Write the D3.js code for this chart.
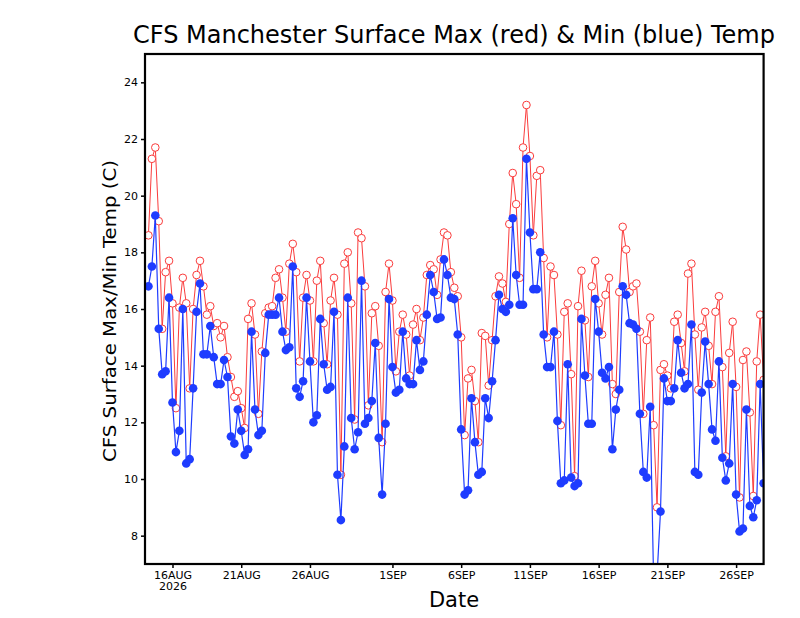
<!DOCTYPE html>
<html lang="en">
<head>
	<meta charset="UTF-8">
	<title>CFS Manchester</title>
	<style>
		body { margin: 0; background: #fff; }
		text { font-family: "DejaVu Sans", sans-serif; fill: #000; }
	</style>
</head>
<body>
<script src="https://d3js.org/d3.v7.min.js"></script>
<script type="text/javascript">
	// 6-hourly CFS values, first one 14AUG2026 06Z
	var start = Date.UTC(2026, 7, 14, 6);
	var stepHours = 6;

	var tmax = [
		18.6, 21.3, 21.7, 19.1, 15.3, 17.3, 17.7, 16.2, 12.5, 16.05,
		17.1, 16.2, 13.2, 16.0, 17.2, 17.7, 16.8, 15.8, 16.1, 15.4,
		15.5, 15.0, 15.4, 14.3, 13.6, 12.9, 13.1, 12.5, 11.8, 15.65,
		16.2, 15.1, 12.3, 14.5, 15.85, 16.05, 16.1, 17.1, 17.4, 16.4,
		15.2, 17.6, 18.3, 17.3, 14.15, 16.4, 17.2, 16.3, 14.15, 17.0,
		17.7, 15.5, 14.05, 16.3, 17.1, 15.8, 10.15, 17.6, 18.0, 16.2,
		12.1, 18.7, 18.5, 16.8, 12.6, 15.85, 16.1, 14.7, 11.3, 16.6,
		17.6, 16.3, 13.8, 15.2, 15.8, 15.1, 13.65, 15.45, 16.0, 14.9,
		15.7, 17.2, 17.55, 17.4, 16.5, 17.75, 18.7, 18.6, 17.3, 16.75,
		16.45, 15.0, 11.55, 13.55, 13.85, 12.75, 11.3, 15.15, 15.05, 13.3,
		14.9, 16.45, 17.15, 16.9, 16.25, 19.0, 20.8, 19.7, 17.1, 21.7,
		23.2, 21.4, 18.6, 20.7, 20.9, 17.8, 15.0, 17.5, 17.2, 15.1,
		11.9, 15.9, 16.2, 13.7, 10.1, 16.1, 17.35, 15.6, 13.6, 16.8,
		17.7, 16.2, 15.1, 16.5, 17.1, 13.35, 13.0, 16.6, 18.9, 18.1,
		16.6, 16.8, 16.9, 15.2, 12.3, 14.9, 15.7, 11.9, 9.0, 13.85,
		14.05, 13.65, 13.2, 15.55, 15.8, 14.8, 13.8, 17.25, 17.6, 15.1,
		13.15, 15.35, 15.9, 14.7, 13.35, 15.9, 16.45, 13.95, 10.8, 14.45,
		15.55, 13.25, 9.35, 14.2, 14.5, 12.35, 9.4, 14.15, 15.8, 13.5
	];

	var tmin = [
		16.8, 17.5, 19.3, 15.3, 13.7, 13.8, 16.4, 12.7, 10.95, 11.7,
		16.0, 10.55, 10.7, 13.2, 15.9, 16.9, 14.4, 14.4, 15.4, 14.3,
		13.35, 13.35, 14.2, 13.6, 11.5, 11.25, 12.45, 11.7, 10.85, 11.05,
		15.2, 12.45, 11.55, 11.7, 14.45, 15.8, 15.8, 15.8, 16.4, 15.2,
		14.55, 14.65, 17.5, 13.2, 12.9, 13.45, 16.4, 14.15, 12.0, 12.25,
		15.65, 14.05, 13.15, 13.25, 15.9, 10.15, 8.55, 11.15, 16.4, 12.15,
		11.05, 11.65, 17.0, 11.95, 12.15, 12.75, 14.8, 11.45, 9.45, 11.95,
		16.35, 13.95, 13.05, 13.15, 15.2, 13.55, 13.35, 13.35, 14.9, 13.85,
		14.15, 15.8, 17.2, 16.6, 15.65, 15.7, 17.75, 17.2, 16.4, 16.35,
		15.1, 11.75, 9.45, 9.6, 12.85, 11.3, 10.15, 10.25, 12.85, 12.15,
		13.45, 14.9, 16.5, 16.0, 15.9, 16.15, 19.2, 17.2, 16.15, 16.15,
		21.3, 18.7, 16.7, 16.7, 18.0, 15.1, 13.95, 13.95, 15.2, 12.05,
		9.85, 9.95, 14.05, 10.05, 9.75, 9.85, 15.65, 13.65, 11.95, 11.95,
		16.35, 15.2, 13.75, 13.55, 13.95, 11.05, 12.45, 13.15, 16.8, 16.5,
		15.5, 15.45, 15.3, 12.3, 10.25, 10.05, 12.55, 6.4, 6.6, 8.85,
		13.55, 12.75, 12.75, 13.2, 14.9, 13.75, 13.2, 13.35, 15.45, 10.25,
		10.15, 13.05, 14.85, 13.35, 11.75, 11.35, 14.15, 10.75, 9.95, 10.55,
		13.35, 9.45, 8.15, 8.25, 12.45, 9.05, 8.65, 9.25, 13.35, 9.85
	];

	var xTickDays = ["2026-08-16", "2026-08-21", "2026-08-26", "2026-09-01", "2026-09-06",
		"2026-09-11", "2026-09-16", "2026-09-21", "2026-09-26"];
	var yTicks = [8, 10, 12, 14, 16, 18, 20, 22, 24];
	var months = ["JAN","FEB","MAR","APR","MAY","JUN","JUL","AUG","SEP","OCT","NOV","DEC"];

	var W = 800, H = 618;
	var pLeft = 145, pRight = 763.6, pTop = 54, pBottom = 564;

	var times = tmax.map(function(d, i) { return new Date(start + i * stepHours * 3600000); });

	var x = d3.scaleUtc()
		.domain([new Date(Date.UTC(2026, 7, 14)), new Date(Date.UTC(2026, 8, 28))])
		.range([pLeft, pRight]);
	var y = d3.scaleLinear().domain([7, 25]).range([pBottom, pTop]);

	var svg = d3.select('body').append('svg').attr('width', W).attr('height', H);
	svg.append('rect').attr('width', W).attr('height', H).attr('fill', '#fff');

	svg.append('clipPath').attr('id', 'plot')
		.append('rect').attr('x', pLeft).attr('y', pTop)
		.attr('width', pRight - pLeft).attr('height', pBottom - pTop);

	var red = 'rgb(250,60,60)', blue = 'rgb(30,60,255)';

	var line = function(vals) {
		return d3.line()
			.x(function(d, i) { return x(times[i]); })
			.y(function(d) { return y(d); })(vals);
	};

	var g = svg.append('g').attr('clip-path', 'url(#plot)');

	// max: red line, open circles
	g.append('path').attr('d', line(tmax))
		.attr('fill', 'none').attr('stroke', red).attr('stroke-width', 1);
	g.selectAll('circle.mx').data(tmax).enter().append('circle')
		.attr('class', 'mx')
		.attr('cx', function(d, i) { return x(times[i]); })
		.attr('cy', function(d) { return y(d); })
		.attr('r', 3.8)
		.attr('fill', '#fff').attr('stroke', red).attr('stroke-width', 1);

	// min: blue line, filled dots
	g.append('path').attr('d', line(tmin))
		.attr('fill', 'none').attr('stroke', blue).attr('stroke-width', 1.2);
	g.selectAll('circle.mn').data(tmin).enter().append('circle')
		.attr('class', 'mn')
		.attr('cx', function(d, i) { return x(times[i]); })
		.attr('cy', function(d) { return y(d); })
		.attr('r', 4.3)
		.attr('fill', blue);

	// axes
	var xAxis = d3.axisBottom(x)
		.tickValues(xTickDays.map(function(s) { return new Date(s + 'T00:00:00Z'); }))
		.tickSize(4).tickSizeOuter(0)
		.tickFormat(function(d) { return d.getUTCDate() + months[d.getUTCMonth()]; });
	var gx = svg.append('g').attr('transform', 'translate(0,' + pBottom + ')').call(xAxis);
	gx.select('.domain').remove();
	gx.selectAll('text').attr('font-size', 11).attr('font-family', 'DejaVu Sans');
	gx.select('.tick text').each(function(d) {
		d3.select(this).append('tspan').attr('x', 0).attr('dy', '1.05em').text(d.getUTCFullYear());
	});

	var yAxis = d3.axisLeft(y).tickValues(yTicks).tickSize(4).tickSizeOuter(0);
	var gy = svg.append('g').attr('transform', 'translate(' + pLeft + ',0)').call(yAxis);
	gy.select('.domain').remove();
	gy.selectAll('text').attr('font-size', 11).attr('font-family', 'DejaVu Sans').attr('x', -7);

	svg.selectAll('.tick line').attr('stroke', '#000').attr('stroke-width', 1.5);

	svg.append('rect').attr('x', pLeft).attr('y', pTop)
		.attr('width', pRight - pLeft).attr('height', pBottom - pTop)
		.attr('fill', 'none').attr('stroke', '#000').attr('stroke-width', 2.2);

	// titles
	svg.append('text').attr('x', 454).attr('y', 43)
		.attr('text-anchor', 'middle').attr('font-size', 24)
		.attr('textLength', 642).attr('lengthAdjust', 'spacingAndGlyphs')
		.text('CFS Manchester Surface Max (red) & Min (blue) Temp');

	svg.append('text')
		.attr('transform', 'translate(116,311) rotate(-90)')
		.attr('text-anchor', 'middle').attr('font-size', 18)
		.attr('textLength', 302).attr('lengthAdjust', 'spacingAndGlyphs')
		.text('CFS Surface Max/Min Temp (C)');

	svg.append('text').attr('x', 454).attr('y', 607)
		.attr('text-anchor', 'middle').attr('font-size', 21)
		.text('Date');
</script>
</body>
</html>
